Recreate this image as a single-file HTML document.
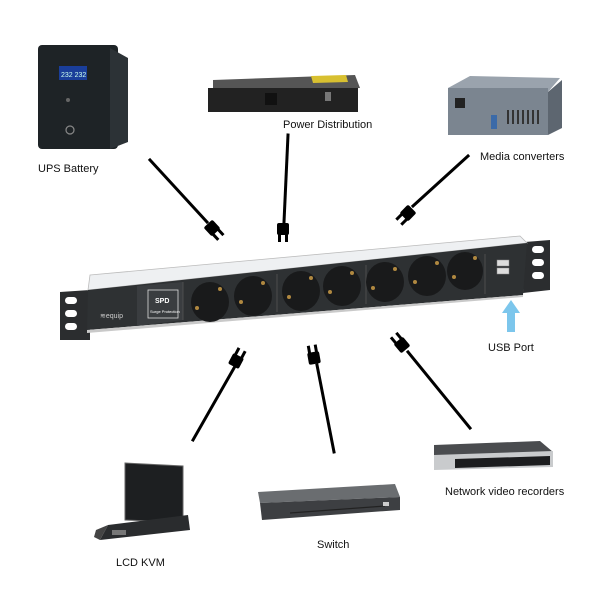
<!DOCTYPE html>
<html><head><meta charset="utf-8"><style>
html,body{margin:0;padding:0;background:#fff;}
svg{display:block}
text{font-family:"Liberation Sans",sans-serif;font-size:11px;fill:#111}
</style></head><body>
<svg width="600" height="600" viewBox="0 0 600 600" xmlns="http://www.w3.org/2000/svg">
<defs>
<g id="plug">
<rect x="-6" y="-6" width="12" height="12" rx="2" fill="#000"/>
<rect x="-5" y="-13" width="3" height="8" fill="#000"/>
<rect x="2" y="-13" width="3" height="8" fill="#000"/>
</g>
<linearGradient id="dev" x1="0" y1="0" x2="0" y2="1"><stop offset="0" stop-color="#555"/><stop offset="1" stop-color="#222"/></linearGradient>
</defs>

<!-- UPS -->
<rect x="38" y="45" width="80" height="104" rx="4" fill="#1e2326"/>
<polygon points="110,48 128,58 128,142 110,149" fill="#2c3236"/>
<rect x="59" y="66" width="28" height="14" fill="#1a3e9a"/>
<text x="61" y="77" style="font-size:7px;fill:#cfe">232 232</text>
<circle cx="68" cy="100" r="2" fill="#666"/>
<circle cx="70" cy="130" r="4" fill="none" stroke="#888" stroke-width="1.2"/>
<text x="38" y="172">UPS Battery</text>

<!-- Power distribution -->
<polygon points="213,80 355,75 360,88 213,93" fill="#555"/>
<polygon points="311,76 346,75 348,82 313,83" fill="#d8c030"/>
<rect x="208" y="88" width="150" height="24" fill="#222"/>
<rect x="265" y="93" width="12" height="12" fill="#111"/>
<rect x="325" y="92" width="6" height="9" fill="#777"/>
<text x="283" y="128">Power Distribution</text>

<!-- Media converter -->
<polygon points="448,88 470,76 560,78 548,92" fill="#9aa3ad"/>
<rect x="448" y="88" width="100" height="47" fill="#7b8590"/>
<polygon points="548,92 562,80 562,128 548,135" fill="#5d6670"/>
<rect x="455" y="98" width="10" height="10" fill="#222"/>
<g fill="#333"><rect x="507" y="110" width="2" height="14"/><rect x="512" y="110" width="2" height="14"/><rect x="517" y="110" width="2" height="14"/><rect x="522" y="110" width="2" height="14"/><rect x="527" y="110" width="2" height="14"/><rect x="532" y="110" width="2" height="14"/><rect x="537" y="110" width="2" height="14"/></g>
<rect x="491" y="115" width="6" height="14" fill="#3b6aa8"/>
<text x="480" y="160">Media converters</text>

<!-- Top cables -->
<g stroke="#000" stroke-width="3" stroke-linecap="square">
<line x1="150" y1="160" x2="207" y2="222"/>
<line x1="288" y1="135" x2="284" y2="222"/>
<line x1="468" y1="156" x2="413" y2="206"/>
<line x1="193" y1="440" x2="234" y2="368"/>
<line x1="334" y1="452" x2="317" y2="365"/>
<line x1="470" y1="428" x2="408" y2="352"/>
</g>
<use href="#plug" transform="translate(212,228) rotate(137)"/>
<use href="#plug" transform="translate(283,229) rotate(180)"/>
<use href="#plug" transform="translate(408,213) rotate(-135)"/>
<use href="#plug" transform="translate(236,361) rotate(28)"/>
<use href="#plug" transform="translate(314,358) rotate(-10)"/>
<use href="#plug" transform="translate(402,345) rotate(-40)"/>

<!-- PDU -->
<polygon points="60,292 90,290 90,340 60,340" fill="#2b2d2f"/>
<rect x="65" y="297" width="12" height="7" rx="3.5" fill="#fff"/>
<rect x="65" y="310" width="12" height="7" rx="3.5" fill="#fff"/>
<rect x="65" y="323" width="12" height="7" rx="3.5" fill="#fff"/>
<polygon points="525,242 550,240 550,290 523,293" fill="#2b2d2f"/>
<rect x="532" y="246" width="12" height="7" rx="3.5" fill="#fff"/>
<rect x="532" y="259" width="12" height="7" rx="3.5" fill="#fff"/>
<rect x="532" y="272" width="12" height="7" rx="3.5" fill="#fff"/>
<polygon points="90,275 520,236 527,243 88,290" fill="#eef0f2" stroke="#bbb" stroke-width="0.8"/>
<polygon points="88,290 527,243 523,295 87,330" fill="#2e3133"/>
<polygon points="87,330 523,295 523,297 87,333" fill="#c9c9c9"/>
<polygon points="137,286 183,282 183,320 137,326" fill="#3a3d40"/>
<rect x="148" y="290" width="30" height="28" fill="none" stroke="#ddd" stroke-width="0.8"/>
<text x="155" y="303" style="font-size:7px;fill:#fff;font-weight:bold">SPD</text>
<text x="150" y="313" style="font-size:4px;fill:#fff">Surge Protection</text>
<text x="100" y="318" style="font-size:7px;fill:#ccc">≋equip</text>
<g stroke="#555" stroke-width="0.8">
<line x1="183" y1="282" x2="183" y2="320"/>
<line x1="277" y1="274" x2="277" y2="312"/>
<line x1="366" y1="265" x2="366" y2="304"/>
<line x1="485" y1="254" x2="485" y2="294"/>
</g>
<g fill="#191a1b">
<ellipse cx="210" cy="302" rx="19" ry="20"/>
<ellipse cx="253" cy="296" rx="19" ry="20"/>
<ellipse cx="301" cy="291" rx="19" ry="20"/>
<ellipse cx="342" cy="286" rx="19" ry="20"/>
<ellipse cx="385" cy="282" rx="19" ry="20"/>
<ellipse cx="427" cy="276" rx="19" ry="20"/>
<ellipse cx="465" cy="271" rx="18" ry="19"/>
</g>
<g fill="#b08840">
<circle cx="197" cy="308" r="2"/><circle cx="220" cy="289" r="2"/>
<circle cx="241" cy="302" r="2"/><circle cx="263" cy="283" r="2"/>
<circle cx="289" cy="297" r="2"/><circle cx="311" cy="278" r="2"/>
<circle cx="330" cy="292" r="2"/><circle cx="352" cy="273" r="2"/>
<circle cx="373" cy="288" r="2"/><circle cx="395" cy="269" r="2"/>
<circle cx="415" cy="282" r="2"/><circle cx="437" cy="263" r="2"/>
<circle cx="454" cy="277" r="2"/><circle cx="475" cy="258" r="2"/>
</g>
<rect x="497" y="260" width="12" height="6" fill="#ddd" stroke="#888" stroke-width="0.5"/>
<rect x="497" y="268" width="12" height="6" fill="#ddd" stroke="#888" stroke-width="0.5"/>

<!-- USB arrow -->
<polygon points="511,300 502,313 507,313 507,332 515,332 515,313 520,313" fill="#7cc6ec"/>
<text x="488" y="351">USB Port</text>

<!-- LCD KVM -->
<polygon points="125,463 183,466 183,522 125,520" fill="#1d1f21" stroke="#666" stroke-width="1"/>
<polygon points="108,525 188,515 190,530 100,540" fill="#2a2c2e"/>
<polygon points="96,530 108,525 100,540 94,537" fill="#444"/>
<rect x="112" y="530" width="14" height="5" fill="#777"/>
<text x="116" y="566">LCD KVM</text>

<!-- Switch -->
<polygon points="258,492 395,484 400,497 260,503" fill="#6a6d70"/>
<polygon points="260,503 400,497 400,510 262,520" fill="#3d3f42"/>
<g stroke="#222" stroke-width="1.2"><line x1="290" y1="513" x2="385" y2="506"/></g>
<rect x="383" y="502" width="6" height="4" fill="#ccc"/>
<text x="317" y="548">Switch</text>

<!-- NVR -->
<polygon points="434,445 540,441 553,452 434,458" fill="#4a4c4f"/>
<polygon points="434,455 553,451 553,467 434,470" fill="#c9cbcd"/>
<polygon points="455,459 550,456 550,465 455,468" fill="#1c1d1f"/>
<text x="445" y="495">Network video recorders</text>
</svg>
</body></html>
